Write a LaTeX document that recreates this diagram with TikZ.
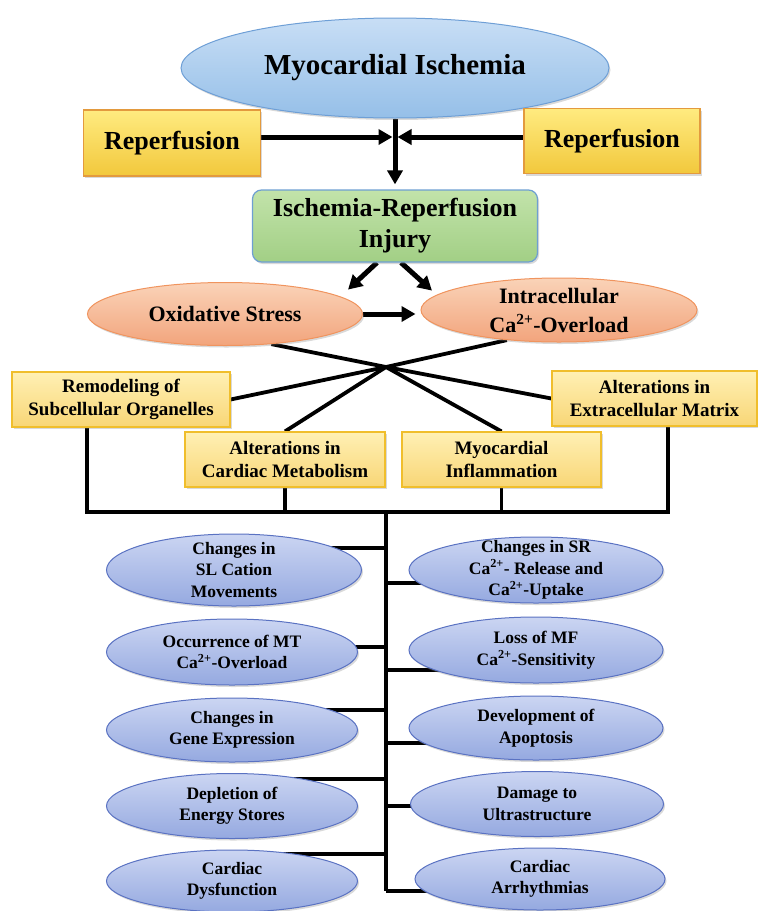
\documentclass[tikz,border=0pt]{standalone}
\usepackage{fontspec}
\setmainfont{Liberation Serif}
\usetikzlibrary{shapes.geometric,arrows.meta,shadows}
\pgfdeclarelayer{background}
\pgfsetlayers{background,main}
\definecolor{blueA}{HTML}{C8DEF5}
\definecolor{blueB}{HTML}{95BFE8}
\definecolor{blueD}{HTML}{6E9FD6}
\definecolor{repA}{HTML}{FFEB80}
\definecolor{repB}{HTML}{F2C83C}
\definecolor{repD}{HTML}{E39A3E}
\definecolor{grA}{HTML}{C2E3AA}
\definecolor{grB}{HTML}{A2CF85}
\definecolor{grD}{HTML}{6E9FD2}
\definecolor{saA}{HTML}{FAD3B8}
\definecolor{saB}{HTML}{F2A47C}
\definecolor{saD}{HTML}{F0945E}
\definecolor{lyA}{HTML}{FFF0B4}
\definecolor{lyB}{HTML}{F8D676}
\definecolor{lyD}{HTML}{F0BE2C}
\definecolor{lvA}{HTML}{CBD5F2}
\definecolor{lvB}{HTML}{95A9E0}
\definecolor{lvD}{HTML}{5A72C2}
\newcommand{\myfs}[2]{\fontsize{#1}{#2}\selectfont}
\newcommand{\cat}{Ca\textsuperscript{2+}}
\begin{document}
\begin{tikzpicture}[x=1pt,y=-1pt,
  base/.style={align=center, inner sep=0pt,
    drop shadow={shadow xshift=1.5pt,shadow yshift=-2pt,opacity=0.3}},
  topell/.style={base, ellipse, draw=blueD, line width=1pt, top color=blueA, bottom color=blueB},
  repbox/.style={base, rectangle, draw=repD, line width=1.2pt, top color=repA, bottom color=repB},
  greenbox/.style={base, rectangle, rounded corners=9pt, draw=grD, line width=1.2pt, top color=grA, bottom color=grB},
  salell/.style={base, ellipse, draw=saD, line width=1pt, top color=saA, bottom color=saB, inner ysep=-5pt},
  lybox/.style={base, rectangle, draw=lyD, line width=1.2pt, top color=lyA, bottom color=lyB,
    minimum height=55pt, font=\bfseries\myfs{19}{22.5}},
  lvell/.style={base, ellipse, draw=lvD, line width=1pt, top color=lvA, bottom color=lvB,
    font=\bfseries\myfs{17.5}{21.5}, inner ysep=-4pt},
  bigarrow/.style={line width=5pt, -{Triangle[length=14pt,width=15pt]}},
  conn/.style={line width=3.8pt}
]
\useasboundingbox (0,0) rectangle (758,911);

% top part
\node[topell, minimum width=428pt, minimum height=100pt, font=\bfseries\myfs{29}{33}] (mi) at (395,68) {Myocardial Ischemia};
\node[repbox, minimum width=177pt, minimum height=66pt, font=\bfseries\myfs{26}{30}] (rl) at (172,143) {Reperfusion};
\node[repbox, minimum width=176pt, minimum height=65pt, font=\bfseries\myfs{26}{30}] (rr) at (612,141) {Reperfusion};
\coordinate (j) at (395,137);
\node[greenbox, minimum width=285pt, minimum height=72pt, font=\bfseries\myfs{26}{31}] (irj) at (395,226) {Ischemia-Reperfusion\\Injury};
\node[salell, minimum width=275pt, minimum height=63pt, font=\bfseries\myfs{22}{28}] (os) at (225,314) {Oxidative Stress};
\node[salell, minimum width=276pt, minimum height=64pt, font=\bfseries\myfs{22}{29}] (ic) at (559,310) {Intracellular\\\cat-Overload};

% middle boxes
\node[lybox, minimum width=218pt] (rso) at (121,399.5) {Remodeling of\\Subcellular Organelles};
\node[lybox, minimum width=205pt] (em) at (654.5,398.5) {Alterations in\\Extracellular Matrix};
\node[lybox, minimum width=200pt] (cm) at (285,459.5) {Alterations in\\Cardiac Metabolism};
\node[lybox, minimum width=199pt] (inf) at (501.5,459.5) {Myocardial\\Inflammation};

% bottom ellipses
\node[lvell, minimum width=255pt, minimum height=72pt, inner ysep=-8pt] (l1) at (234,570) {Changes in\\SL Cation\\Movements};
\node[lvell, minimum width=254pt, minimum height=66pt, inner ysep=-10pt] (r1) at (536,570) {Changes in SR\\\cat- Release and\\\cat-Uptake};
\node[lvell, minimum width=251pt, minimum height=66pt] (l2) at (232,652) {Occurrence of MT\\\cat-Overload};
\node[lvell, minimum width=254pt, minimum height=66pt] (r2) at (536,650) {Loss of MF\\\cat-Sensitivity};
\node[lvell, minimum width=251pt, minimum height=64pt] (l3) at (232,730) {Changes in\\Gene Expression};
\node[lvell, minimum width=254pt, minimum height=64pt] (r3) at (536,728) {Development of\\Apoptosis};
\node[lvell, minimum width=251pt, minimum height=65pt] (l4) at (232,806) {Depletion of\\Energy Stores};
\node[lvell, minimum width=253pt, minimum height=65pt] (r4) at (537,804) {Damage to\\Ultrastructure};
\node[lvell, minimum width=251pt, minimum height=62pt] (l5) at (232,881) {Cardiac\\Dysfunction};
\node[lvell, minimum width=250pt, minimum height=62pt] (r5) at (540,879) {Cardiac\\Arrhythmias};

\begin{pgfonlayer}{background}
\draw[bigarrow, shorten >=5pt] (mi.south) -- (irj.north);
\draw[bigarrow, shorten >=2.5pt] (rl.east |- j) -- (j);
\draw[bigarrow, shorten >=2.5pt] (rr.west |- j) -- (j);
\draw[bigarrow] ([xshift=-18pt]irj.south) -- ++(-29,27);
\draw[bigarrow] ([xshift=6pt]irj.south) -- ++(31,28);
\draw[bigarrow, shorten >=5pt] (os.east) -- (os.east -| ic.west);

\coordinate (hub) at (386,367);
\draw[conn] (os.-33) -- (hub) -- (em.west);
\draw[conn] (ic.-150) -- (hub) -- (rso.east);
\draw[conn] (hub) -- (cm.north);
\draw[conn] (hub) -- (inf.north);

\coordinate (bus) at (386,512);
\coordinate (tend) at (386,891);
\draw[conn] ([xshift=-34pt]rso.south) |- (bus) -| ([xshift=13.5pt]em.south);
\draw[conn] (cm.south) -- (cm.south |- bus);
\draw[conn] (inf.south) -- (inf.south |- bus);
\draw[conn] (bus) -- (tend);

\draw[conn] ([yshift=22pt]l1.center) -- ([yshift=22pt]l1.center -| bus);
\draw[conn] ([yshift=5pt]l2.center) -- ([yshift=5pt]l2.center -| bus);
\draw[conn] ([yshift=20pt]l3.center) -- ([yshift=20pt]l3.center -| bus);
\draw[conn] ([yshift=27pt]l4.center) -- ([yshift=27pt]l4.center -| bus);
\draw[conn] ([yshift=27pt]l5.center) -- ([yshift=27pt]l5.center -| bus);
\draw[conn] ([yshift=-13pt]r1.center -| bus) -- ([yshift=-13pt]r1.center);
\draw[conn] ([yshift=-20pt]r2.center -| bus) -- ([yshift=-20pt]r2.center);
\draw[conn] ([yshift=-15pt]r3.center -| bus) -- ([yshift=-15pt]r3.center);
\draw[conn] ([yshift=-2pt]r4.center -| bus) -- ([yshift=-2pt]r4.center);
\draw[conn] ([yshift=-12pt]r5.center -| bus) -- ([yshift=-12pt]r5.center);
\end{pgfonlayer}
\end{tikzpicture}
\end{document}
